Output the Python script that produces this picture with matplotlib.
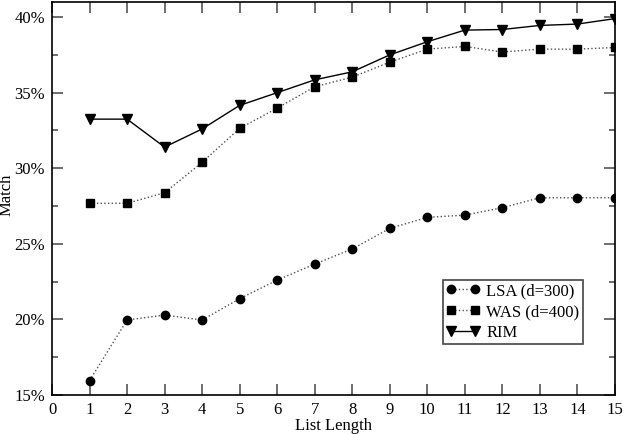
import numpy as np
import matplotlib.pyplot as plt
from matplotlib.ticker import MultipleLocator, FuncFormatter

plt.rcParams['font.family'] = ['Liberation Serif', 'DejaVu Serif']

list_length = [1, 2, 3, 4, 5, 6, 7, 8, 9, 10, 11, 12, 13, 14, 15]
lsa = [15.95, 19.96, 20.29, 19.96, 21.37, 22.6, 23.66, 24.66, 26.02, 26.75,
       26.9, 27.39, 28.05, 28.05, 28.05]
was = [27.68, 27.68, 28.38, 30.39, 32.64, 33.98, 35.39, 36.03, 37.02, 37.88,
       38.06, 37.69, 37.88, 37.88, 37.99]
rim = [33.25, 33.25, 31.4, 32.6, 34.16, 35.0, 35.85, 36.38, 37.5, 38.37,
       39.14, 39.18, 39.45, 39.54, 39.9]

fig = plt.figure(figsize=(6.23, 4.34), dpi=100)
ax = fig.add_axes([0.0835, 0.0899, 0.9035, 0.9055])

ax.plot(list_length, lsa, color='#505050', linestyle=':', linewidth=1.0,
        marker='o', markersize=6, markerfacecolor='black', markeredgecolor='black',
        label='LSA (d=300)')
ax.plot(list_length, was, color='#505050', linestyle=':', linewidth=1.0,
        marker='s', markersize=5.2, markerfacecolor='black', markeredgecolor='black',
        label='WAS (d=400)')
ax.plot(list_length, rim, color='black', linestyle='-', linewidth=1.0,
        marker='v', markersize=6.5, markerfacecolor='black', markeredgecolor='black',
        label='RIM')

ax.set_xlim(0, 15)
ax.set_ylim(15, 41)
ax.xaxis.set_major_locator(MultipleLocator(1))
ax.yaxis.set_major_locator(MultipleLocator(5))
ax.yaxis.set_minor_locator(MultipleLocator(2.5))
ax.yaxis.set_major_formatter(FuncFormatter(lambda v, p: '%d%%' % v))

ax.tick_params(which='both', direction='in', top=True, right=True,
               color='#555555', labelsize=12)
ax.tick_params(which='major', length=8, width=1.2, pad=5)
ax.tick_params(which='minor', length=4.5, width=1.2)
for s in ax.spines.values():
    s.set_linewidth(1.2)

ax.set_xlabel('List Length', fontsize=12, labelpad=0)
ax.set_ylabel('Match', fontsize=12)
ax.yaxis.set_label_coords(-0.066, 0.51)

leg = ax.legend(loc='lower right', bbox_to_anchor=(0.943, 0.13), numpoints=2,
                fontsize=12, fancybox=False, framealpha=1, edgecolor='#444444',
                handlelength=2.0, handletextpad=0.4, borderpad=0.2,
                labelspacing=0.28, borderaxespad=0)
leg.get_frame().set_linewidth(1.2)

fig.savefig('out.png', dpi=100)
